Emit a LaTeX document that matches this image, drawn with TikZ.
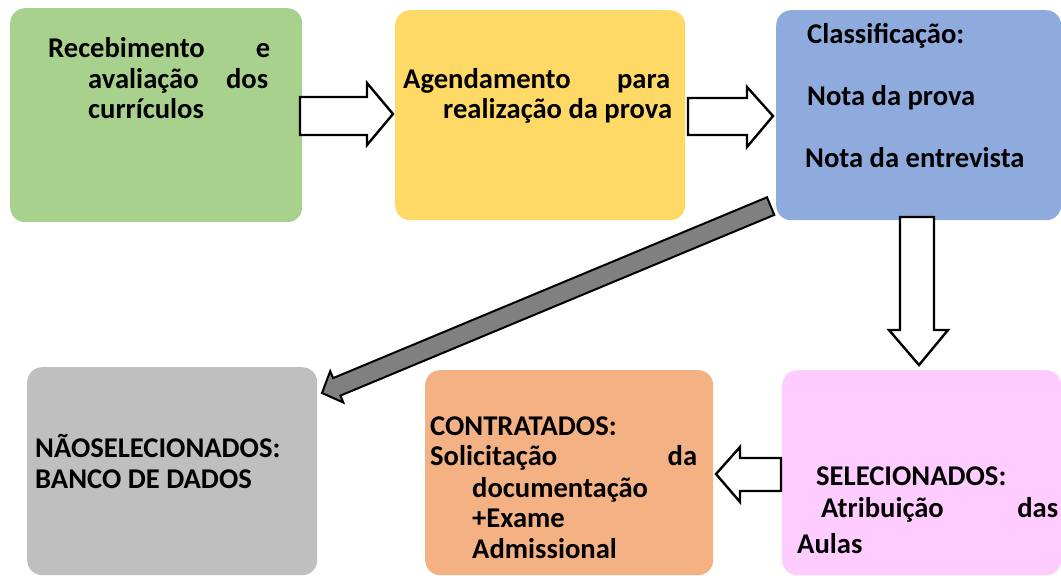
\documentclass[tikz,border=0pt]{standalone}
\usepackage{fontspec}
\setmainfont{Carlito}
\definecolor{cgreen}{HTML}{A9D18E}
\definecolor{cyellow}{HTML}{FFD966}
\definecolor{cblue}{HTML}{8FAADC}
\definecolor{cgray}{HTML}{BFBFBF}
\definecolor{corange}{HTML}{F4B183}
\definecolor{cpink}{HTML}{FFCCFF}
\definecolor{carrow}{HTML}{808080}
\tikzset{
  box/.style={rounded corners=15pt, draw=none, inner sep=0pt, anchor=north west},
  txt/.style={inner sep=0pt, anchor=base west, font=\bfseries\fontsize{28.6}{34}\selectfont, text=black},
  blockarrow/.style={draw=black, line width=2.4pt, fill=white, line join=miter},
  grayarrow/.style={draw=black, line width=2pt, fill=carrow, line join=miter}
}
\begin{document}
\begin{tikzpicture}[x=1pt,y=-1pt]
\useasboundingbox (0,0) rectangle (1061,576);
\clip (0,0) rectangle (1061,576);
\fill[white] (0,0) rectangle (1061,576);
% boxes
\node[box, fill=cgreen, minimum width=292pt, minimum height=214pt] (g) at (10,8) {};
\node[box, fill=cyellow, minimum width=290pt, minimum height=210pt] (y) at (395,10) {};
\node[box, fill=cblue, minimum width=285pt, minimum height=210pt] (b) at (776,10) {};
\node[box, fill=cgray, minimum width=290pt, minimum height=208pt] (gr) at (27,367) {};
\node[box, fill=corange, minimum width=288pt, minimum height=205pt] (o) at (425,370) {};
\node[box, fill=cpink, minimum width=279pt, minimum height=205pt] (p) at (782,370) {};
% texts
\node[txt] (g1) at (48,57) {\makebox[222pt][s]{Recebimento e}};
\node[txt] (g2) at (88,88) {\makebox[180pt][s]{avaliação dos}};
\node[txt] (g3) at (88,118) {currículos};
\node[txt] (y1) at (403,88) {\makebox[267pt][s]{Agendamento para}};
\node[txt] (y2) at (443,118) {realização da prova};
\node[txt] (b1) at (807,43) {Classificação:};
\node[txt] (b2) at (807,105) {Nota da prova};
\node[txt] (b3) at (805,167) {Nota da entrevista};
\node[txt] (gr1) at (35,457) {NÃOSELECIONADOS:};
\node[txt] (gr2) at (35,488) {BANCO DE DADOS};
\node[txt] (o1) at (430,435) {CONTRATADOS:};
\node[txt] (o2) at (430,465) {\makebox[267pt][s]{Solicitação da}};
\node[txt] (o3) at (472,497) {documentação};
\node[txt] (o4) at (472,527) {+Exame};
\node[txt] (o5) at (472,558) {Admissional};
\node[txt] (p1) at (816,485) {SELECIONADOS:};
\node[txt] (p2) at (821,517) {\makebox[237pt][s]{Atribuição das}};
\node[txt] (p3) at (797,553) {Aulas};
% block arrows
\draw[blockarrow] (300,97) -- (367,97) -- (367,83) -- (393,114) -- (367,145) -- (367,135) -- (300,135) -- cycle;
\draw[blockarrow] (688,98) -- (747,98) -- (747,87) -- (773,116) -- (747,147) -- (747,135) -- (688,135) -- cycle;
\draw[blockarrow] (900,217) -- (934,217) -- (934,330) -- (948,330) -- (919,365) -- (889,330) -- (900,330) -- cycle;
\draw[blockarrow] (781,458) -- (740,458) -- (740,447) -- (716,474) -- (740,502) -- (740,491) -- (781,491) -- cycle;
\draw[grayarrow] (322,393) -- (343.3,402.5) -- (340.4,395.6) -- (774.3,214.9) -- (767.0,197.3) -- (333.1,378.1) -- (330.2,371.2) -- cycle;
\end{tikzpicture}
\end{document}
